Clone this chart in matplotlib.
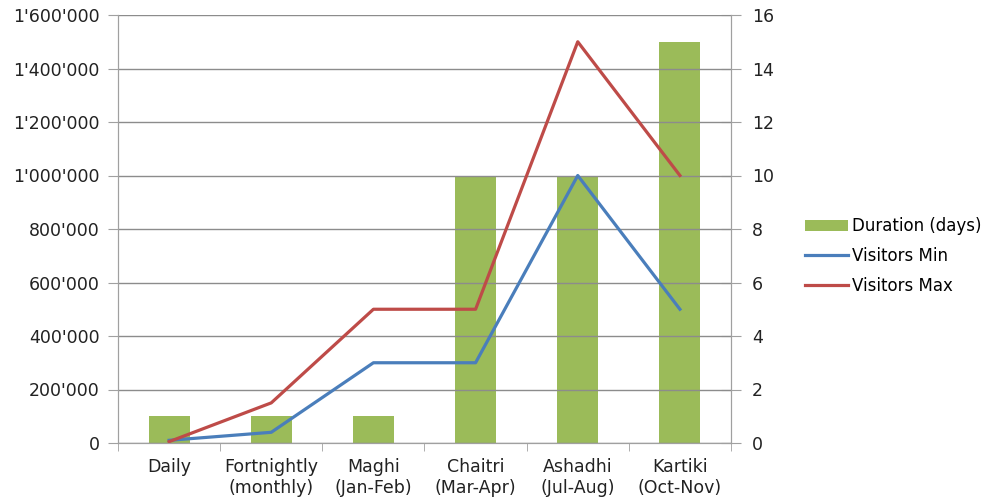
# Festivales: duracion y visitantes.

import matplotlib.pyplot as plt

import numpy as np

from matplotlib.ticker import FuncFormatter

categorias = [ 'Daily' , 'Fortnightly\n(monthly)' , 'Maghi\n(Jan-Feb)' , 'Chaitri\n(Mar-Apr)' , 'Ashadhi\n(Jul-Aug)' , 'Kartiki\n(Oct-Nov)' ]

duracion = [ 1 , 1 , 1 , 10 , 10 , 15 ]

visitantes_min = [ 10000 , 40000 , 300000 , 300000 , 1000000 , 500000 ]

visitantes_max = [ 5000 , 150000 , 500000 , 500000 , 1500000 , 1000000 ]

plt.rcParams[ 'font.family' ] = 'DejaVu Sans'

def apostrofes( v , pos ) :

    return '{:,.0f}'.format( v ).replace( ',' , "'" )

fig = plt.figure( figsize = ( 9.91 , 5.01 ) , dpi = 100 )

ax = fig.add_axes( [ 118 / 991 , 1 - 443 / 501 , 613 / 991 , 428 / 501 ] )

ax2 = ax.twinx( )

x = np.arange( len( categorias ) )

gris = '#a0a0a0'

# Barras en el eje derecho.

ax2.bar( x , duracion , width = 0.4 , color = '#9bbb59' , label = 'Duration (days)' , zorder = 2 )

ax2.set_ylim( 0 , 16 )

ax2.set_yticks( np.arange( 0 , 17 , 2 ) )

# Lineas en el eje izquierdo, dibujadas encima de las barras.

ax.set_zorder( ax2.get_zorder( ) + 1 )

ax.patch.set_visible( False )

ax.plot( x , visitantes_min , color = '#4a7ebb' , linewidth = 2.3 , label = 'Visitors Min' )

ax.plot( x , visitantes_max , color = '#be4b48' , linewidth = 2.3 , label = 'Visitors Max' )

ax.set_ylim( 0 , 1600000 )

ax.set_yticks( np.arange( 0 , 1600001 , 200000 ) )

ax.yaxis.set_major_formatter( FuncFormatter( apostrofes ) )

ax.set_xlim( -0.5 , len( categorias ) - 0.5 )

ax.set_xticks( x )

ax.set_xticklabels( categorias )

ax.set_xticks( np.arange( -0.5 , len( categorias ) , 1 ) , minor = True )

ax.tick_params( axis = 'x' , which = 'major' , length = 0 , pad = 11 )

ax.tick_params( axis = 'x' , which = 'minor' , length = 6 , color = gris )

ax.tick_params( axis = 'y' , length = 7 , color = gris , pad = 6 )

ax2.tick_params( axis = 'y' , direction = 'inout' , length = 14 , color = gris , pad = 8 )

for a in ( ax , ax2 ) :

    a.tick_params( labelsize = 12.5 , labelcolor = '#222222' )

    for s in [ 'top' ] :

        a.spines[ s ].set_visible( False )

    for s in [ 'left' , 'right' , 'bottom' ] :

        a.spines[ s ].set_color( gris )

ax.grid( axis = 'y' , color = '#8c8c8c' , linewidth = 1 )

ax.set_axisbelow( True )

# Leyenda combinada.

h2 , l2 = ax2.get_legend_handles_labels( )

h1 , l1 = ax.get_legend_handles_labels( )

fig.legend( h2 + h1 , l2 + l1 , loc = 'center left' , bbox_to_anchor = ( 805 / 991 , 1 - 256 / 501 ) , frameon = False , fontsize = 12 , handlelength = 2.6 , handletextpad = 0.2 , labelspacing = 0.7 , borderaxespad = 0 , borderpad = 0 )

plt.savefig( 'out.png' , dpi = 100 )
